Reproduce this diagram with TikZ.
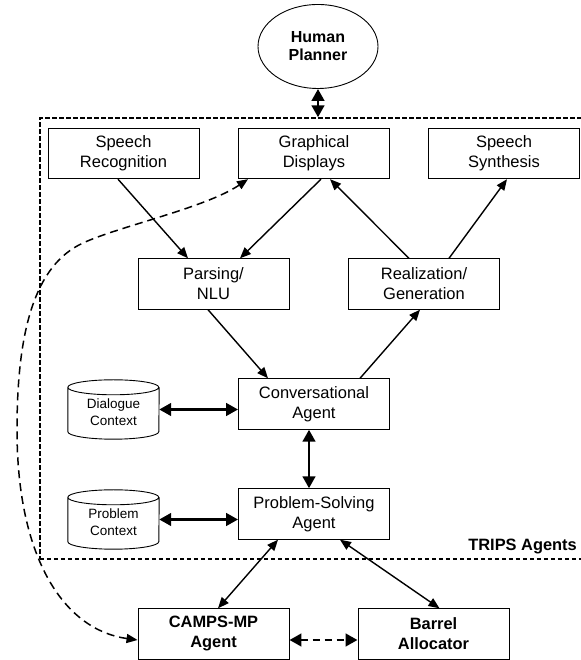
\documentclass[tikz,border=0pt]{standalone}
\usepackage{fontspec}
\setmainfont{Liberation Sans}
\usetikzlibrary{shapes.geometric,arrows.meta}
\begin{document}
\begin{tikzpicture}[x=1pt,y=1pt,
  box/.style={draw, line width=0.9pt, rectangle, minimum width=151pt, minimum height=50.5pt,
    inner sep=0pt, align=center, font=\fontsize{16.5}{20}\selectfont,
    execute at begin node=\rule{0pt}{19.5pt}},
  bbox/.style={box, font=\bfseries\fontsize{16.4}{20}\selectfont,
    execute at begin node=\rule{0pt}{21pt}},
  store/.style={rectangle, minimum width=91pt, minimum height=59pt, inner sep=0pt,
    align=center, font=\fontsize{13.5}{17}\selectfont,
    execute at begin node=\rule{0pt}{32pt}},
  cylline/.style={line width=0.9pt},
  actor/.style={draw, ellipse, line width=0.9pt, minimum width=120pt, minimum height=84pt,
    inner sep=0pt, align=center, font=\bfseries\fontsize{16}{18}\selectfont,
    execute at begin node=\rule{0pt}{21pt}},
  thin/.style={line width=1.4pt, -{Triangle[length=11pt,width=9pt]}},
  thinboth/.style={line width=1.4pt, {Triangle[length=11pt,width=9pt]}-{Triangle[length=11pt,width=9pt]}},
  thickboth/.style={line width=2.9pt, {Triangle[length=12pt,width=12.5pt]}-{Triangle[length=12pt,width=12.5pt]}},
  dashedboth/.style={line width=2.9pt, dash pattern=on 7pt off 5pt, {Triangle[length=12pt,width=12.5pt]}-{Triangle[length=12pt,width=12.5pt]}},
  curveboth/.style={line width=1.5pt, dash pattern=on 8pt off 5pt, {Triangle[length=11pt,width=9pt]}-{Triangle[length=11pt,width=9pt]}},
  region/.style={draw, line width=1.7pt, dash pattern=on 4.5pt off 2.5pt, rectangle, inner sep=0pt}
]
\useasboundingbox (0,0) rectangle (580,660);

% TRIPS region
\node[region, minimum width=551pt, minimum height=441pt, anchor=south west] (trips) at (39,100) {};
\node[font=\bfseries\fontsize{16.4}{20}\selectfont, anchor=base east, inner sep=0pt] (lbl) at (577,109) {TRIPS Agents};

% nodes
\node[actor] (human) at (318,613.5) {Human\\Planner};
\node[box] (sr) at (123.5,506.5) {Speech\\Recognition};
\node[box] (gd) at (314,506.5) {Graphical\\Displays};
\node[box] (ss) at (504,506.5) {Speech\\Synthesis};
\node[box] (pn) at (213.5,376) {Parsing/\\NLU};
\node[box] (rg) at (424,376) {Realization/\\Generation};
\node[box] (ca) at (314,256) {Conversational\\Agent};
\node[box] (ps) at (314,146) {Problem-Solving\\Agent};
\node[bbox] (camps) at (213.5,26) {CAMPS-MP\\Agent};
\node[bbox] (barrel) at (433.5,26) {Barrel\\Allocator};
\node[store] (dc) at (113.5,250.5) {Dialogue\\Context};
\node[store] (pc) at (113.5,140.5) {Problem\\Context};

% cylinders
\foreach \c in {dc,pc}{
  \draw[cylline] ([yshift=-7.5pt]\c.north west) arc[start angle=180,end angle=540,x radius=45.5pt,y radius=7.5pt]
    -- ([yshift=7.5pt]\c.south west) arc[start angle=180,end angle=360,x radius=45.5pt,y radius=7.5pt]
    -- ([yshift=-7.5pt]\c.north east);
}

% connectors
\draw[thickboth] (human.south) -- (human.south |- trips.north);
\draw[thin] ([xshift=-5.5pt]sr.south) -- ([xshift=-25.5pt]pn.north);
\draw[thin] ([xshift=7pt]gd.south) -- ([xshift=26.5pt]pn.north);
\draw[thin] ([xshift=-15pt]rg.north) -- ([xshift=16pt]gd.south);
\draw[thin] ([xshift=25pt]rg.north) -- ([xshift=3pt]ss.south);
\draw[thin] ([xshift=-5.5pt]pn.south) -- ([xshift=-46pt]ca.north);
\draw[thin] ([xshift=46pt]ca.north) -- ([xshift=-4pt]rg.south);
\draw[thickboth] (dc.east) -- ([yshift=-5.5pt]ca.west);
\draw[thickboth] ([xshift=-5pt]ca.south) -- ([xshift=-5pt]ps.north);
\draw[thickboth] (pc.east) -- ([yshift=-5.5pt]ps.west);
\draw[thinboth] ([xshift=-36pt]ps.south) -- ([xshift=4.5pt]camps.north);
\draw[thinboth] ([xshift=26pt]ps.south) -- ([xshift=6pt]barrel.north);
\draw[dashedboth] ([yshift=-6pt]camps.east) -- ([yshift=-6pt]barrel.west);
\draw[curveboth] ([yshift=-6pt]camps.west) .. controls (65,30) and (17,100) .. (17,230)
  .. controls (17,330) and (35,395) .. (83,417)
  .. controls (120,434) and (205,452) .. ([xshift=-66pt]gd.south);
\end{tikzpicture}
\end{document}
